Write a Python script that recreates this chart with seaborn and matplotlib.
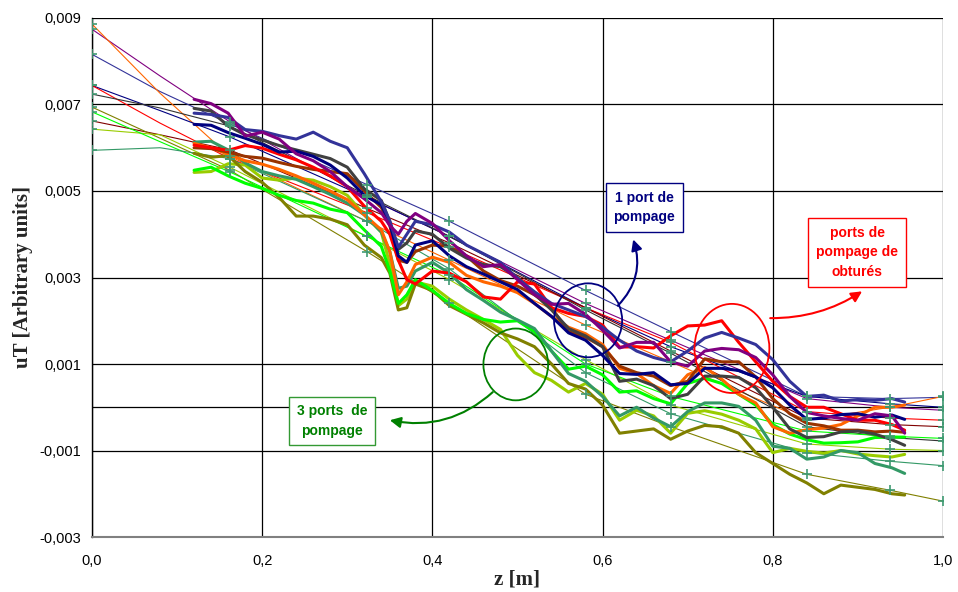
import matplotlib
matplotlib.use("Agg")
import matplotlib.pyplot as plt
import seaborn as sns
import numpy as np
from matplotlib.patches import Ellipse
from matplotlib.ticker import FuncFormatter, FixedLocator

# positions along z (m) where the measured curves were read
z = [0.12, 0.14, 0.16, 0.18, 0.20, 0.22, 0.24, 0.26, 0.28, 0.30, 0.32, 0.34, 0.35, 0.36, 0.37,
     0.38, 0.40, 0.42, 0.44, 0.46, 0.48, 0.50, 0.52, 0.54, 0.56, 0.58, 0.60, 0.62, 0.64, 0.66,
     0.68, 0.70, 0.72, 0.74, 0.76, 0.78, 0.80, 0.82, 0.84, 0.86, 0.88, 0.90, 0.92, 0.94, 0.955]

# measured uT, in units of 1e-3
purple = [7.12, 7.02, 6.8, 6.27, 6.36, 6.2, 5.86, 5.7, 5.45, 5.1, 4.82, 4.5, 4.2, 4.0, 4.3,
          4.48, 4.25, 3.85, 3.5, 3.25, 3.3, 2.95, 2.6, 2.38, 2.4, 2.15, 1.78, 1.37, 1.5, 1.5,
          1.05, 0.95, 1.3, 1.36, 1.33, 1.15, 0.75, 0.25, -0.12, -0.2, -0.26, -0.3, -0.15, -0.2, -0.6]
blue = [6.8, 6.77, 6.7, 6.42, 6.38, 6.28, 6.2, 6.36, 6.15, 6.0, 5.4, 4.75, 4.3, 3.7, 4.0,
        4.3, 4.22, 4.05, 3.75, 3.55, 3.35, 2.98, 2.67, 2.4, 2.25, 2.1, 1.85, 1.55, 1.3, 1.15,
        1.05, 1.3, 1.6, 1.73, 1.6, 1.45, 1.1, 0.6, 0.25, 0.28, 0.14, 0.18, 0.16, 0.2, 0.12]
navy = [6.54, 6.52, 6.35, 6.22, 6.08, 5.9, 5.92, 5.8, 5.6, 5.3, 4.9, 4.68, 4.25, 3.5, 3.35,
        3.75, 3.85, 3.5, 3.25, 3.08, 2.9, 2.72, 2.4, 2.1, 1.72, 1.55, 1.2, 0.78, 0.76, 0.8,
        0.52, 0.55, 0.9, 0.9, 0.85, 0.7, 0.45, 0.05, -0.28, -0.25, -0.17, -0.15, -0.23, -0.18, -0.28]
gray = [6.91, 6.85, 6.5, 6.3, 6.18, 6.05, 5.95, 5.85, 5.75, 5.55, 5.05, 4.78, 4.3, 3.65, 3.8,
        4.08, 4.0, 3.68, 3.45, 3.3, 3.25, 3.0, 2.62, 2.25, 1.82, 1.65, 1.4, 0.6, 0.65, 0.5,
        0.2, 0.3, 0.72, 0.72, 0.69, 0.45, 0.0, -0.5, -0.7, -0.68, -0.57, -0.55, -0.62, -0.75, -0.88]
red = [6.06, 6.0, 5.94, 6.05, 5.99, 5.85, 5.72, 5.55, 5.35, 5.1, 4.65, 4.3, 4.0, 3.4, 2.95,
       2.85, 3.15, 3.1, 2.9, 2.55, 2.5, 2.9, 2.85, 2.3, 2.17, 2.1, 1.9, 1.39, 1.4, 1.37,
       1.65, 1.88, 1.9, 2.0, 1.5, 1.05, 0.6, 0.25, 0.0, 0.0, -0.15, -0.3, -0.3, -0.4, -0.53]
brown = [6.0, 5.98, 5.9, 5.8, 5.76, 5.66, 5.57, 5.5, 5.45, 5.4, 5.0, 4.62, 4.2, 3.4, 3.35,
         3.6, 3.75, 3.72, 3.5, 3.15, 2.93, 2.8, 2.6, 2.3, 1.75, 1.62, 1.4, 0.95, 0.8, 0.72,
         0.5, 0.6, 1.12, 1.05, 1.05, 0.7, 0.2, -0.15, -0.37, -0.43, -0.53, -0.53, -0.57, -0.55, -0.58]
orange = [6.1, 6.0, 5.85, 5.7, 5.62, 5.5, 5.35, 5.18, 5.0, 4.8, 4.45, 4.1, 3.6, 2.6, 2.9,
          3.3, 3.47, 3.35, 3.05, 2.9, 2.8, 2.65, 2.4, 2.1, 1.85, 1.7, 1.45, 0.9, 0.78, 0.5,
          0.32, 0.75, 0.92, 0.65, 0.3, 0.1, -0.45, -0.6, -0.52, -0.48, -0.4, -0.2, 0.0, 0.0, 0.05]
seagreen = [6.13, 6.15, 5.95, 5.65, 5.45, 5.35, 5.27, 5.1, 4.92, 4.72, 4.45, 4.05, 3.6, 2.75, 2.8,
            3.15, 3.35, 3.1, 2.72, 2.47, 2.2, 2.02, 1.82, 1.3, 0.78, 0.6, 0.25, -0.2, 0.0, -0.25,
            -0.45, -0.1, 0.1, 0.1, 0.02, -0.3, -0.9, -0.95, -1.2, -1.15, -1.0, -1.05, -1.3, -1.4, -1.53]
green = [5.48, 5.55, 5.35, 5.18, 5.06, 4.9, 4.78, 4.72, 4.58, 4.5, 4.1, 3.72, 3.15, 2.4, 2.6,
         2.95, 2.7, 2.4, 2.17, 2.03, 1.97, 2.0, 1.75, 1.3, 0.88, 0.95, 0.75, 0.35, 0.38, 0.2,
         0.08, 0.55, 0.67, 0.55, 0.3, 0.05, -0.4, -0.62, -0.75, -0.83, -0.82, -0.8, -0.7, -0.69, -0.69]
ygreen = [5.43, 5.45, 5.63, 5.6, 5.3, 5.25, 5.3, 5.25, 5.1, 4.9, 4.45, 4.05, 3.3, 2.35, 2.5,
          2.9, 2.8, 2.5, 2.25, 2.03, 1.8, 1.2, 0.8, 0.62, 0.35, 0.55, 0.3, -0.3, -0.07, -0.2,
          -0.6, -0.14, -0.08, -0.16, -0.3, -0.5, -1.05, -0.95, -1.02, -1.06, -1.0, -1.08, -1.12, -1.15, -1.09]
olive = [5.87, 5.78, 5.82, 5.45, 5.2, 4.85, 4.42, 4.42, 4.35, 4.22, 3.75, 3.46, 3.1, 2.25, 2.3,
         2.85, 2.7, 2.35, 2.15, 1.95, 1.72, 1.58, 1.4, 1.0, 0.55, 0.42, 0.05, -0.6, -0.55, -0.5,
         -0.74, -0.55, -0.42, -0.45, -0.6, -1.05, -1.3, -1.55, -1.75, -2.0, -1.8, -1.85, -1.9, -2.0, -2.03]

# trend curves, read at these z positions (1e-3 units)
z_fit = [0.0, 0.08, 0.162, 0.323, 0.42, 0.58, 0.68, 0.84, 0.938, 1.0]
blue_fit = [8.16, 7.3, 6.55, 5.15, 4.3, 2.7, 1.75, 0.25, 0.2, 0.23]
purple_fit = [8.74, 7.66, 6.6, 4.85, 3.95, 2.4, 1.55, 0.2, 0.0, -0.07]
orange_fit = [8.86, 7.26, 5.8, 4.3, 3.4, 1.9, 1.05, -0.3, 0.0, 0.25]
navy_fit = [7.44, 6.86, 6.25, 4.85, 3.95, 2.3, 1.4, 0.25, 0.08, 0.0]
red_fit = [7.44, 6.57, 5.75, 4.5, 3.7, 2.3, 1.5, -0.1, -0.25, -0.3]
gray_fit = [7.24, 6.92, 6.5, 4.9, 3.95, 2.25, 1.25, -0.45, -0.7, -0.78]
darkred_fit = [6.62, 6.3, 5.95, 4.6, 3.8, 2.3, 1.3, -0.25, -0.4, -0.45]
olive_fit = [6.94, 6.22, 5.48, 3.6, 2.4, 0.3, -0.45, -1.55, -1.92, -2.17]
ygreen_fit = [6.43, 6.3, 5.55, 3.95, 2.95, 1.1, 0.05, -0.85, -0.97, -1.0]
green_fit = [6.83, 6.14, 5.44, 3.95, 3.05, 1.0, 0.25, -0.55, -0.67, -0.72]
seagreen_fit = [5.94, 6.0, 5.75, 4.3, 3.2, 0.8, -0.15, -1.05, -1.25, -1.35]

measured = [
    (ygreen, "#99cc00"), (olive, "#808000"), (green, "#00ff00"), (seagreen, "#339966"),
    (orange, "#ff6600"), (brown, "#993300"), (red, "#ff0000"), (gray, "#404040"),
    (navy, "#000080"), (blue, "#333399"), (purple, "#800080"),
]
fits = [
    (blue_fit, "#333399"), (purple_fit, "#800080"), (orange_fit, "#ff6600"),
    (navy_fit, "#000080"), (red_fit, "#ff0000"), (gray_fit, "#333333"),
    (darkred_fit, "#800000"), (olive_fit, "#808000"), (ygreen_fit, "#99cc00"),
    (green_fit, "#00ff00"), (seagreen_fit, "#339966"),
]

sns.set_style("white")
plt.rcParams["font.family"] = ["Liberation Sans", "DejaVu Sans"]

fig = plt.figure(figsize=(9.58, 5.92), dpi=100)
ax = fig.add_axes([0.0960, 0.0929, 0.8883, 0.8767])

for vals, col in fits:
    y = np.array(vals) * 1e-3
    sns.lineplot(x=z_fit, y=y, color=col, lw=0.8, ax=ax, zorder=2)

for vals, col in measured:
    y = np.array(vals) * 1e-3
    sns.lineplot(x=z, y=y, color=col, lw=2.2, ax=ax, zorder=3,
                 solid_joinstyle="round", solid_capstyle="round")

mark_idx = [0, 2, 3, 4, 5, 6, 7, 8, 9]
for vals, col in fits:
    y = np.array(vals) * 1e-3
    ax.plot([z_fit[i] for i in mark_idx], [y[i] for i in mark_idx], ls="none",
            marker="+", ms=7, mew=1.2, color="#3f9a72", zorder=4)

ax.set_xlim(0, 1.0)
ax.set_ylim(-0.003, 0.009)
ax.xaxis.set_major_locator(FixedLocator([0, 0.2, 0.4, 0.6, 0.8, 1.0]))
ax.yaxis.set_major_locator(FixedLocator([-0.003, -0.001, 0.001, 0.003, 0.005, 0.007, 0.009]))
ax.xaxis.set_major_formatter(FuncFormatter(lambda v, p: f"{v:.1f}".replace(".", ",")))
ax.yaxis.set_major_formatter(FuncFormatter(lambda v, p: f"{v:.3f}".replace(".", ",")))
ax.tick_params(axis="both", labelsize=10.5, colors="black", length=4, direction="out")
ax.tick_params(axis="x", pad=8)
ax.grid(True, color="black", lw=0.9, zorder=1)
ax.axhline(0, color="black", lw=0.9, zorder=1)
for side in ["top", "right"]:
    ax.spines[side].set_visible(False)
ax.spines["left"].set_color("black")
ax.spines["bottom"].set_color("#808080")
ax.spines["left"].set_linewidth(1.0)
ax.spines["bottom"].set_linewidth(1.5)

ax.set_xlabel("z [m]", family="Liberation Serif", fontweight="bold", fontsize=15, labelpad=1)
ax.set_ylabel("uT [Arbitrary units]", family="Liberation Serif", fontweight="bold", fontsize=15,
              labelpad=5)

# annotations: circles, boxes and arrows
ax.add_patch(Ellipse((0.583, 0.00201), 0.080, 0.00171, fill=False, ec="#000080", lw=1.3, zorder=5))
ax.add_patch(Ellipse((0.752, 0.00136), 0.088, 0.00206, fill=False, ec="#ff0000", lw=1.3, zorder=5))
ax.add_patch(Ellipse((0.498, 0.00099), 0.076, 0.00166, fill=False, ec="#008000", lw=1.3, zorder=5))

box = dict(boxstyle="square,pad=0.55", fc="white", lw=1.0)
ax.text(0.649, 0.00462, "1 port de\npompage", color="#000080", ha="center", va="center",
        fontsize=10, fontweight="bold", linespacing=1.5, bbox={**box, "ec": "#000080"}, zorder=6)
ax.text(0.899, 0.00358, "ports de\npompage de\nobturés", color="#ff0000", ha="center", va="center",
        fontsize=10, fontweight="bold", linespacing=1.5, bbox={**box, "ec": "#ff0000"}, zorder=6)
ax.text(0.282, -0.00032, "3 ports  de\npompage", color="#008000", ha="center", va="center",
        fontsize=10, fontweight="bold", linespacing=1.5, bbox={**box, "ec": "#339933"}, zorder=6)

arrow = dict(arrowstyle="-|>", lw=1.5, mutation_scale=16, shrinkA=0, shrinkB=0)
ax.annotate("", xy=(0.636, 0.00388), xytext=(0.618, 0.00235),
            arrowprops={**arrow, "color": "#000080", "connectionstyle": "arc3,rad=0.3"}, zorder=6)
ax.annotate("", xy=(0.905, 0.00268), xytext=(0.797, 0.00206),
            arrowprops={**arrow, "color": "#ff0000", "connectionstyle": "arc3,rad=0.15"}, zorder=6)
ax.annotate("", xy=(0.350, -0.00030), xytext=(0.471, 0.00035),
            arrowprops={**arrow, "color": "#008000", "connectionstyle": "arc3,rad=-0.25"}, zorder=6)

fig.savefig("out.png", dpi=100)
